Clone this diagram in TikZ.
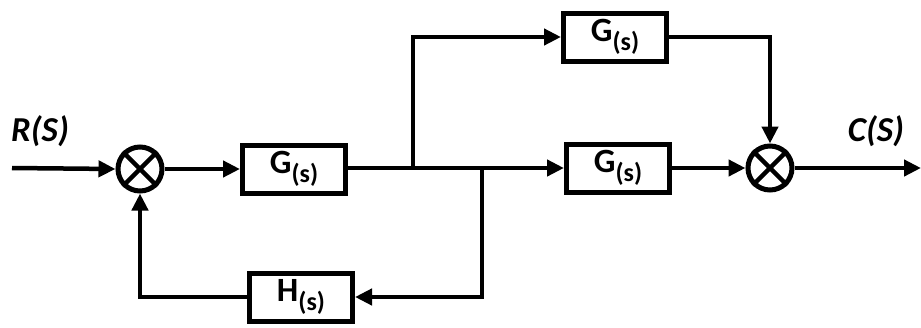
\documentclass[tikz,border=0pt]{standalone}
\usepackage{fontspec}
\setmainfont{Carlito}
\usetikzlibrary{arrows.meta}
\newcommand{\gsub}[1]{#1\raisebox{-0.28em}{\fontsize{26}{26}\selectfont(s)}}
\begin{document}
\begin{tikzpicture}[x=1pt,y=-1pt,
  line width=4.5pt,
  blk/.style={draw, line width=5pt, minimum width=103pt, minimum height=48pt, inner sep=0pt,
    font=\fontsize{34}{36}\selectfont\bfseries},
  sumj/.style={draw, circle, line width=5pt, minimum size=44pt, inner sep=0pt},
  arr/.style={-{Triangle[length=17pt,width=16pt]}},
  lbl/.style={font=\fontsize{35}{37}\selectfont\bfseries\itshape}]
\useasboundingbox (0,0) rectangle (921,327);
\coordinate (in) at (12,168);
\coordinate (out) at (921,168);
\coordinate (b1) at (413,168);
\coordinate (b2) at (482,168);
\node[sumj] (s1) at (140,169) {};
\node[blk] (g1) at (294,169) {\gsub{G}};
\node[blk] (g2) at (615,37) {\gsub{G}};
\node[blk] (g3) at (618,168) {\gsub{G}};
\node[sumj] (s2) at (770,168) {};
\node[blk] (h) at (301,297) {\gsub{H}};
\node[lbl] (r) at (40,131) {R(S)};
\node[lbl] (c) at (876,131) {C(S)};
\draw (s1.north west) -- (s1.south east) (s1.north east) -- (s1.south west);
\draw (s2.north west) -- (s2.south east) (s2.north east) -- (s2.south west);
\draw[arr] (in) -- (s1.west);
\draw[arr] (s1.east) -- (g1.west);
\draw[arr] (g1.east |- b1) -- (g3.west);
\draw[arr] (b1) |- (g2.west);
\draw[arr] (g2.east) -| (s2.north);
\draw[arr] (g3.east) -- (s2.west);
\draw[arr] (s2.east) -- (out);
\draw[arr] (b2) |- (h.east);
\draw[arr] (h.west) -| (s1.south);
\end{tikzpicture}
\end{document}
